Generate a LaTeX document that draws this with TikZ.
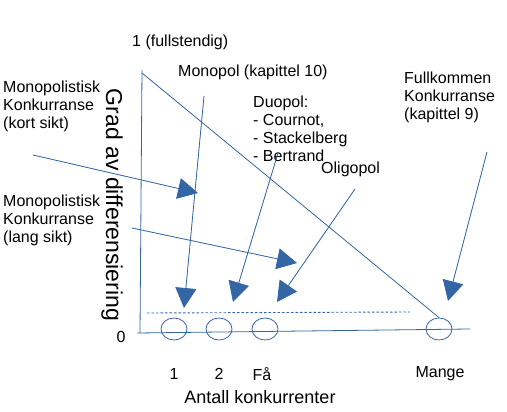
\documentclass[tikz,border=0pt]{standalone}
\usepackage{fontspec}
\setmainfont{Liberation Sans}
\usetikzlibrary{arrows.meta,shapes.geometric}
\definecolor{lineblue}{RGB}{52,101,164}

\tikzset{
  pointer/.style={draw=lineblue, line width=0.8pt, -{Triangle[length=20pt,width=21pt]}},
  count/.style={ellipse, draw=lineblue, line width=0.8pt, minimum width=26pt, minimum height=22pt, inner sep=0pt},
  tag/.style={anchor=west, align=left, inner sep=0pt},
}

\begin{document}
\begin{tikzpicture}[x=1pt, y=-1pt, font=\fontsize{16}{18}\selectfont]
	\useasboundingbox (0,0) rectangle (507,412);
	% axes
	\coordinate (top) at (142,70);
	\coordinate (origin) at (140,333);
	\coordinate (xend) at (470,329);
	\draw[lineblue, line width=0.8pt] (top) -- (origin);
	\draw[lineblue, line width=0.8pt] (137,333) -- (xend);
	\draw[lineblue, line width=0.9pt, dash pattern=on 2.5pt off 2pt] (147,313) -- (410,312);
	\node[count] (one) at (174,329) {};
	\node[count] (two) at (219,329) {};
	\node[count] (few) at (265,329) {};
	\node[count] (many) at (439,329) {};
	\draw[lineblue, line width=0.8pt] (142,73) -- (many.north);
	% axis texts
	\node[tag] (full) at (132,42) {1 (fullstendig)};
	\node (zero) at (121,337) {0};
	\node (n1) at (174,374) {1};
	\node (n2) at (219,374) {2};
	\node (nfew) at (262,374) {Få};
	\node (nmany) at (440,374) {Mange};
	\node[font=\fontsize{18}{20}\selectfont] (xlab) at (260,397) {Antall konkurrenter};
	\node[font=\fontsize{23}{26}\selectfont, rotate=-90] (ylab) at (112,205) {Grad av differensiering};
	% market forms
	\node[tag] (mkort) at (3,106) {Monopolistisk\\Konkurranse\\(kort sikt)};
	\node[tag] (mlang) at (3,220) {Monopolistisk\\Konkurranse\\(lang sikt)};
	\node[tag] (mono) at (178,72) {Monopol (kapittel 10)};
	\node[tag] (duo) at (253,128.5) {Duopol:\\- Cournot,\\- Stackelberg\\- Bertrand};
	\node[tag] (oligo) at (321,169) {Oligopol};
	\node[tag] (fk) at (404,97) {Fullkommen\\Konkurranse\\(kapittel 9)};
	% arrows
	\draw[pointer, fill=lineblue] (33,155) -- (198,193);
	\draw[pointer, fill=lineblue] (132,228) -- (297,263);
	\draw[pointer, fill=lineblue] (204,96) -- (184,308);
	\draw[pointer, fill=lineblue] (278,153) -- (233,302);
	\draw[pointer, fill=lineblue] (355,189) -- (277,302);
	\draw[pointer, fill=lineblue] (487,152) -- (448,301);
\end{tikzpicture}
\end{document}
